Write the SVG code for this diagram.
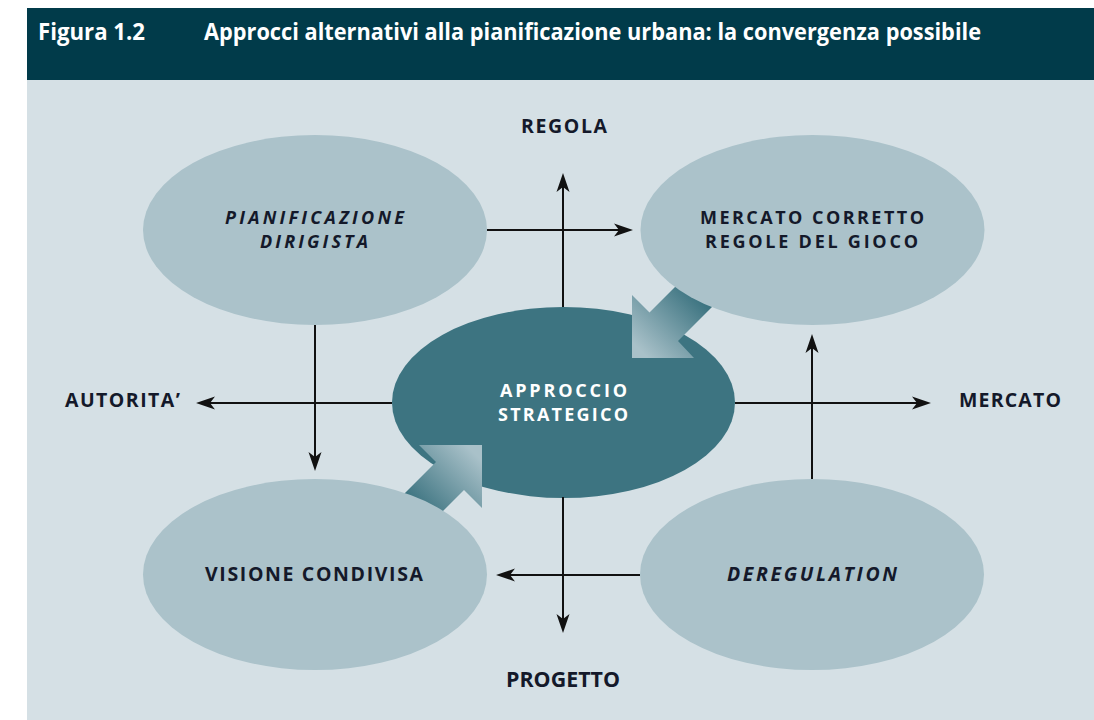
<svg xmlns="http://www.w3.org/2000/svg" width="1094" height="720" viewBox="0 0 1094 720">
<style>
.lbl{font-family:"Open Sans","Noto Sans","DejaVu Sans",sans-serif;font-weight:700;font-size:19.5px;fill:#14192a}
.two{font-size:18px}
.it{font-style:italic}
.wh{fill:#ffffff}
.hdr{font-family:"Liberation Sans Narrow","Open Sans","Liberation Sans",sans-serif;font-weight:700;font-size:23px;fill:#ffffff}
.cond{font-family:"Liberation Sans Narrow","Open Sans","Liberation Sans",sans-serif;font-weight:700;font-size:21px;fill:#14192a}
.side{fill:#abc2ca}
.core{fill:#3d7481}
.ax{stroke:#111111;stroke-width:2;fill:none;marker-end:url(#ah)}
</style>
<defs>
<marker id="ah" viewBox="0 -7 20 14" refX="10" refY="0" markerWidth="20" markerHeight="14" markerUnits="userSpaceOnUse" orient="auto">
<path d="M19,0 L0,-6.5 L5,0 L0,6.5 Z" fill="#111111"/>
</marker>
<linearGradient id="gTR" gradientUnits="userSpaceOnUse" x1="640" y1="350" x2="695" y2="295">
<stop offset="0" stop-color="#a9c1c9"/>
<stop offset="1" stop-color="#3d7481"/>
</linearGradient>
<linearGradient id="gBL" gradientUnits="userSpaceOnUse" x1="474" y1="453" x2="419" y2="508">
<stop offset="0" stop-color="#a9c1c9"/>
<stop offset="1" stop-color="#3d7481"/>
</linearGradient>
</defs>
<rect x="0" y="0" width="1094" height="720" fill="#ffffff"/>
<rect x="27" y="80" width="1067" height="640" fill="#d5e0e5"/>
<g id="header">
<rect x="27" y="8" width="1067" height="72" fill="#013b4a"/>
<text class="hdr" x="38" y="40" textLength="107" lengthAdjust="spacingAndGlyphs">Figura 1.2</text>
<text class="hdr" x="204" y="40" textLength="777" lengthAdjust="spacingAndGlyphs">Approcci alternativi alla pianificazione urbana: la convergenza possibile</text>
</g>
<g id="node-approccio-strategico">
<ellipse class="core" cx="563.5" cy="402.5" rx="171.5" ry="95.5"/>
<text class="lbl two wh" x="500" y="397" textLength="127" lengthAdjust="spacing">APPROCCIO</text>
<text class="lbl two wh" x="498" y="421" textLength="130" lengthAdjust="spacing">STRATEGICO</text>
</g>
<g id="connectors">
<line class="ax" x1="563" y1="307" x2="563" y2="182"/>
<line class="ax" x1="563" y1="497" x2="563" y2="624"/>
<line class="ax" x1="392" y1="403" x2="205" y2="403"/>
<line class="ax" x1="735" y1="403" x2="922" y2="403"/>
<line class="ax" x1="487" y1="230" x2="624" y2="230"/>
<line class="ax" x1="315" y1="325" x2="315" y2="462"/>
<line class="ax" x1="640" y1="575" x2="505" y2="575"/>
<line class="ax" x1="812" y1="479" x2="812" y2="343"/>
<polygon fill="url(#gTR)" points="632,358 632,295 649.5,312.5 691,271 719.5,299.5 678,341 694,358"/>
<polygon fill="url(#gBL)" points="482,445 482,508 464,490 422,532 394,504 436,462 419,445"/>
</g>
<g id="node-pianificazione-dirigista">
<ellipse class="side" cx="315" cy="230" rx="172" ry="95"/>
<text class="lbl two it" x="225" y="224" textLength="179" lengthAdjust="spacing">PIANIFICAZIONE</text>
<text class="lbl two it" x="260" y="248" textLength="108" lengthAdjust="spacing">DIRIGISTA</text>
</g>
<g id="node-mercato-corretto">
<ellipse class="side" cx="812.5" cy="230" rx="172" ry="95"/>
<text class="lbl two" x="700" y="224" textLength="224" lengthAdjust="spacing">MERCATO CORRETTO</text>
<text class="lbl two" x="705" y="248" textLength="213" lengthAdjust="spacing">REGOLE DEL GIOCO</text>
</g>
<g id="node-visione-condivisa">
<ellipse class="side" cx="315" cy="574.5" rx="172" ry="95.5"/>
<text class="lbl" x="205" y="581" textLength="218" lengthAdjust="spacing">VISIONE CONDIVISA</text>
</g>
<g id="node-deregulation">
<ellipse class="side" cx="812" cy="574.5" rx="172" ry="95.5"/>
<text class="lbl it" x="727" y="581" textLength="170" lengthAdjust="spacing">DEREGULATION</text>
</g>
<g id="axis-labels">
<text class="lbl" x="521" y="133" textLength="86" lengthAdjust="spacing">REGOLA</text>
<text class="lbl" x="65" y="407" textLength="115" lengthAdjust="spacing">AUTORITA’</text>
<text class="lbl" x="959" y="407" textLength="102" lengthAdjust="spacing">MERCATO</text>
<text class="cond" x="506" y="687" textLength="114" lengthAdjust="spacingAndGlyphs">PROGETTO</text>
</g>
</svg>
